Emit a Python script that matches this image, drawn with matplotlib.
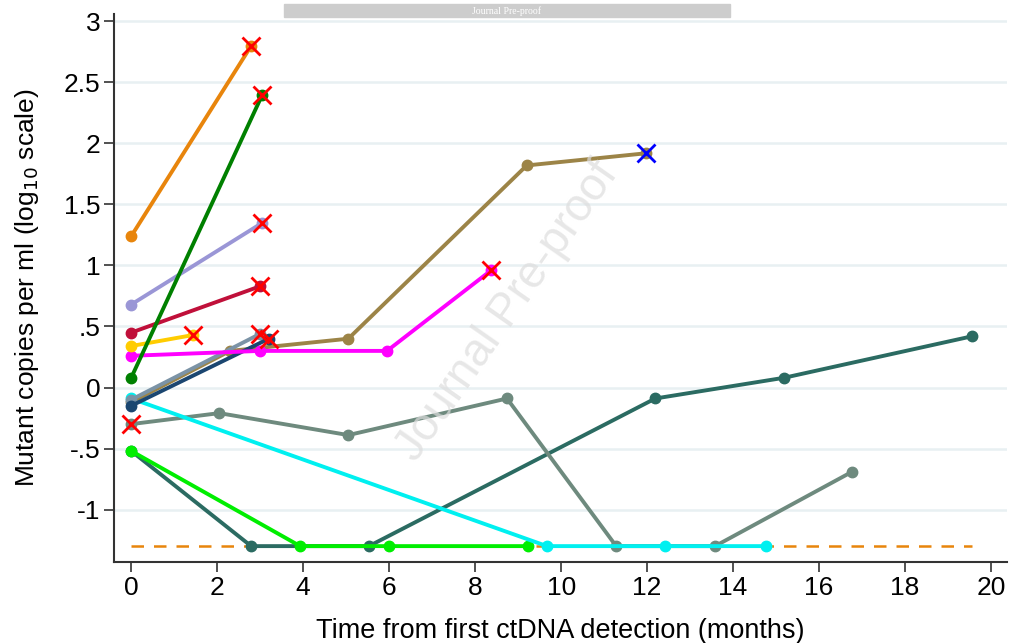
import matplotlib.pyplot as plt

plt.rcParams['font.family'] = ['Liberation Sans', 'DejaVu Sans']

# patient trajectories: months, log10 mutant copies per ml
orange_x = [0, 2.79]
orange_y = [1.24, 2.8]
green_x = [0, 3.05]
green_y = [0.08, 2.4]
lavender_x = [0, 3.05]
lavender_y = [0.68, 1.35]
crimson_x = [0, 3.0]
crimson_y = [0.45, 0.83]
gold_x = [0, 1.44]
gold_y = [0.34, 0.43]
magenta_x = [0, 3.0, 5.95, 8.37]
magenta_y = [0.26, 0.30, 0.30, 0.96]
slate_x = [0, 3.0]
slate_y = [-0.1, 0.44]
navy_x = [0, 3.2]
navy_y = [-0.15, 0.40]
tan_x = [0, 2.3, 5.05, 9.2, 11.98]
tan_y = [-0.12, 0.30, 0.40, 1.82, 1.92]
cyan_x = [0, 9.67, 12.42, 14.77]
cyan_y = [-0.09, -1.3, -1.3, -1.3]
sage_x = [0, 2.05, 5.05, 8.74, 11.28, 13.58, 16.77]
sage_y = [-0.3, -0.21, -0.39, -0.09, -1.3, -1.3, -0.69]
teal_x = [0, 2.79, 5.53, 12.19, 15.19, 19.56]
teal_y = [-0.52, -1.3, -1.3, -0.09, 0.08, 0.42]
lime_x = [0, 3.93, 6.0, 9.23]
lime_y = [-0.52, -1.3, -1.3, -1.3]

lod = -1.3
lod_x = [0, 19.56]

yticks = [-1, -0.5, 0, 0.5, 1, 1.5, 2, 2.5, 3]
ytick_labels = ['-1', '-.5', '0', '.5', '1', '1.5', '2', '2.5', '3']
xticks = [0, 2, 4, 6, 8, 10, 12, 14, 16, 18, 20]

fig = plt.figure(figsize=(10.09, 6.43), dpi=100)
ax = fig.add_axes([0.113, 0.126, 0.885, 0.852])

for yt in yticks:
    ax.axhline(yt, color='#e8f0f2', lw=1.8, zorder=0)

ax.plot(lod_x, [lod, lod], color='#e8850c', lw=1.8, ls=(0, (5, 4)), zorder=1)

series = [
    (teal_x, teal_y, '#2b6b62'),
    (lime_x, lime_y, '#00ee00'),
    (sage_x, sage_y, '#6e8a7e'),
    (cyan_x, cyan_y, '#00f0f0'),
    (tan_x, tan_y, '#9c8447'),
    (slate_x, slate_y, '#7b93a6'),
    (navy_x, navy_y, '#1b4670'),
    (magenta_x, magenta_y, '#ff00ff'),
    (gold_x, gold_y, '#ffcc00'),
    (crimson_x, crimson_y, '#c0103a'),
    (lavender_x, lavender_y, '#9a96d6'),
    (green_x, green_y, '#008000'),
    (orange_x, orange_y, '#e8850c'),
]
for xs, ys, c in series:
    ax.plot(xs, ys, color=c, lw=2.8, marker='o', ms=7.5, zorder=2)

# death / last follow-up markers
red_x = [orange_x[-1], green_x[-1], lavender_x[-1], crimson_x[-1], gold_x[-1],
         magenta_x[-1], slate_x[-1], navy_x[-1], sage_x[0]]
red_y = [orange_y[-1], green_y[-1], lavender_y[-1], crimson_y[-1], gold_y[-1],
         magenta_y[-1], slate_y[-1], navy_y[-1], sage_y[0]]
ax.plot(red_x, red_y, ls='none', marker='x', color='#ff0000', ms=13, mew=2, zorder=3)
ax.plot([tan_x[-1]], [tan_y[-1]], ls='none', marker='x', color='#0000ff', ms=13, mew=2, zorder=3)

ax.set_xlim(-0.4, 20.37)
ax.set_ylim(-1.43, 3.06)
ax.set_xticks(xticks)
ax.set_yticks(yticks)
ax.set_yticklabels(ytick_labels)
ax.tick_params(labelsize=19, length=7, width=1.2, color='#333333', pad=3)
ax.spines['top'].set_visible(False)
ax.spines['right'].set_visible(False)
ax.spines['left'].set_color('#333333')
ax.spines['bottom'].set_color('#333333')
ax.spines['left'].set_linewidth(1.5)
ax.spines['bottom'].set_linewidth(1.5)
ax.set_xlabel('Time from first ctDNA detection (months)', fontsize=19.5, labelpad=13)
ax.set_ylabel('Mutant copies per ml (log$_{10}$ scale)', fontsize=19, labelpad=16)

# watermark and banner
fig.text(0.503, 0.515, 'Journal Pre-proof', fontsize=33, color='#dddddd', alpha=0.7,
         rotation=55, ha='center', va='center', zorder=0)
fig.patches.append(plt.Rectangle((0.2815, 0.973), 0.442, 0.021, transform=fig.transFigure,
                                 color='#cdcdcd', zorder=5))
fig.text(0.5025, 0.983, 'Journal Pre-proof', fontsize=7, color='white', family='Liberation Serif',
         ha='center', va='center', zorder=6)

fig.savefig('out.png', dpi=100)
